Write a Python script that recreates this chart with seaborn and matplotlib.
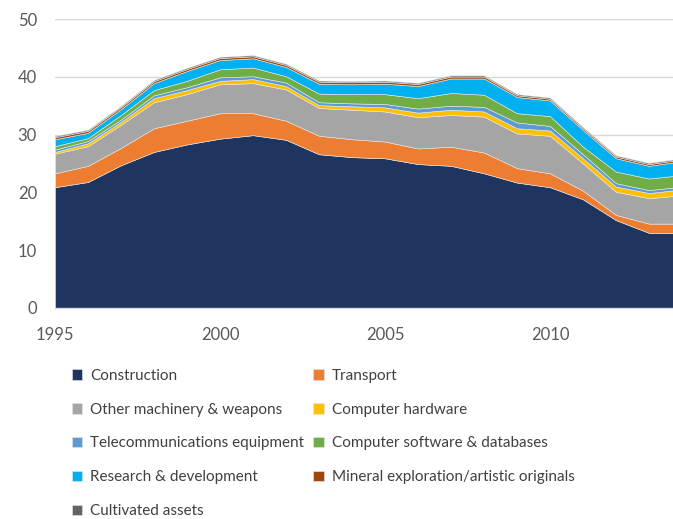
import matplotlib
matplotlib.use("Agg")
import matplotlib.pyplot as plt
import seaborn as sns
import numpy as np
import pandas as pd

years = list(range(1995, 2015))
construction = [20.9, 21.8, 24.7, 27.0, 28.3, 29.3, 29.9, 29.1, 26.6, 26.1,
                25.9, 24.9, 24.6, 23.3, 21.7, 20.9, 18.8, 15.2, 13.0, 13.0]
transport = [2.4, 2.8, 3.0, 4.1, 4.1, 4.4, 3.8, 3.3, 3.2, 3.1,
             2.9, 2.7, 3.3, 3.6, 2.5, 2.4, 1.5, 0.9, 1.6, 1.6]
other_machinery = [3.4, 3.4, 4.0, 4.5, 4.6, 5.0, 5.2, 5.4, 4.8, 5.1,
                   5.2, 5.4, 5.5, 6.2, 6.0, 6.5, 4.7, 4.0, 4.4, 4.9]
computer_hardware = [0.3, 0.5, 0.5, 0.7, 0.7, 0.6, 0.7, 0.6, 0.5, 0.6,
                     0.7, 0.8, 0.9, 0.9, 0.9, 0.9, 0.9, 0.9, 0.9, 1.0]
telecom = [0.4, 0.4, 0.4, 0.5, 0.5, 0.6, 0.5, 0.6, 0.5, 0.5,
           0.6, 0.7, 0.7, 0.8, 1.0, 0.8, 0.7, 0.6, 0.5, 0.5]
software = [0.6, 0.5, 0.8, 0.9, 1.1, 1.4, 1.5, 1.1, 1.5, 1.6,
            1.7, 1.8, 2.2, 2.1, 1.6, 1.7, 1.3, 2.0, 2.0, 2.0]
rnd = [1.2, 0.9, 1.0, 1.2, 1.7, 1.6, 1.6, 1.6, 1.7, 1.7,
       1.8, 2.1, 2.5, 2.8, 2.8, 2.7, 2.9, 2.3, 2.2, 2.4]
mineral = [0.35, 0.35, 0.35, 0.35, 0.35, 0.35, 0.35, 0.35, 0.35, 0.35,
           0.35, 0.35, 0.35, 0.35, 0.3, 0.3, 0.3, 0.3, 0.3, 0.3]
cultivated = [0.2, 0.2, 0.2, 0.2, 0.2, 0.2, 0.2, 0.2, 0.2, 0.2,
              0.2, 0.2, 0.2, 0.2, 0.2, 0.2, 0.2, 0.2, 0.2, 0.2]

labels = ["Construction", "Transport", "Other machinery & weapons",
          "Computer hardware", "Telecommunications equipment",
          "Computer software & databases", "Research & development",
          "Mineral exploration/artistic originals", "Cultivated assets"]
colors = ["#1F3560", "#ED7D31", "#A5A5A5", "#FFC000", "#5B9BD5",
          "#70AD47", "#00B0F0", "#9E480E", "#636363"]
x_ticks = [1995, 2000, 2005, 2010]
y_ticks = [0, 10, 20, 30, 40, 50]

df = pd.DataFrame({"year": years, labels[0]: construction, labels[1]: transport,
                   labels[2]: other_machinery, labels[3]: computer_hardware,
                   labels[4]: telecom, labels[5]: software, labels[6]: rnd,
                   labels[7]: mineral, labels[8]: cultivated})

sns.set_theme(style="white")
plt.rcParams['font.family'] = ['Lato', 'DejaVu Sans']

fig = plt.figure(figsize=(6.73, 5.19), dpi=100)
ax = fig.add_axes([55/673, 1 - 308/519, 1 - 55/673, (308 - 19)/519])

polys = ax.stackplot(df["year"], [df[l] for l in labels], colors=colors,
                     labels=labels, linewidth=0.4, edgecolor="#e8e8e8", zorder=2)

ax.set_xlim(1995, 1995 + (673 - 55) / 33)
ax.set_ylim(0, 50)
ax.set_yticks(y_ticks)
ax.set_xticks(x_ticks)
ax.set_xticklabels([str(t) for t in x_ticks])
ax.yaxis.grid(True, color="#D9D9D9", linewidth=1.0, zorder=0)
ax.xaxis.grid(False)
ax.set_axisbelow(True)
for s in ["top", "right", "left"]:
    ax.spines[s].set_visible(False)
ax.spines["bottom"].set_color("#D9D9D9")
ax.spines["bottom"].set_linewidth(1.0)
ax.tick_params(axis="both", length=0, labelsize=12, colors="#595959")
ax.tick_params(axis="y", pad=13)
ax.tick_params(axis="x", pad=14)

order = [0, 2, 4, 6, 8, 1, 3, 5, 7]
handles = [polys[i] for i in order]
leg = fig.legend(handles, [labels[i] for i in order], ncol=2,
                 loc="upper left", bbox_to_anchor=(58/673, 1 - 355/519),
                 frameon=False, fontsize=11, labelcolor="#404040",
                 handlelength=0.7, handleheight=0.7, handletextpad=0.5,
                 labelspacing=1.3, columnspacing=0.6)

fig.savefig("out.png", dpi=100)
